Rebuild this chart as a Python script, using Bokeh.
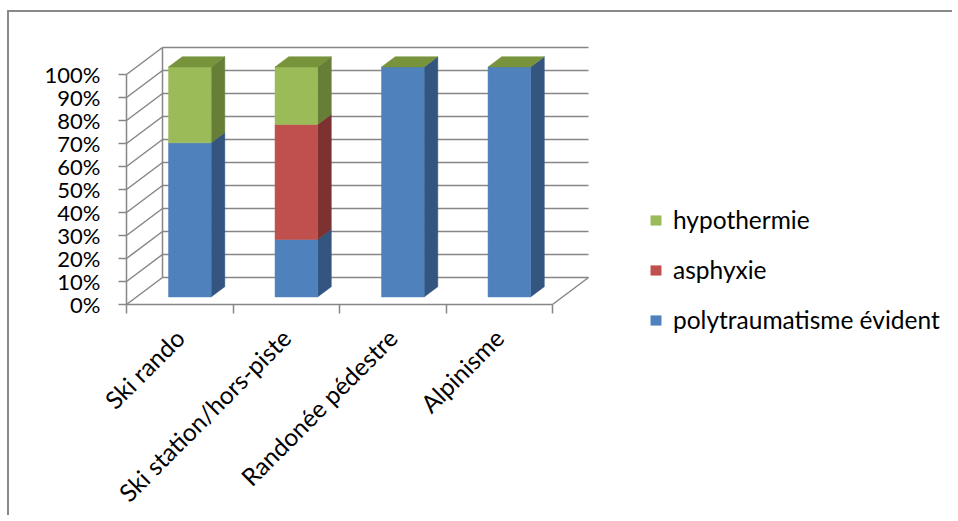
import math
from bokeh.plotting import figure
from bokeh.models import Range1d, FixedTicker, PrintfTickFormatter, Legend, LegendItem
from bokeh.embed import file_html
from bokeh.resources import INLINE

# ---------------- data ----------------
categories = ["Ski rando", "Ski station/hors-piste", "Randonée pédestre", "Alpinisme"]
series_names = ["polytraumatisme évident", "asphyxie", "hypothermie"]
polytraumatisme = [67, 25, 100, 100]
asphyxie = [0, 50, 0, 0]
hypothermie = [33, 25, 0, 0]
y_ticks = [0, 10, 20, 30, 40, 50, 60, 70, 80, 90, 100]

series_values = [polytraumatisme, asphyxie, hypothermie]

# ---------------- style ----------------
front_colors = ["#4F81BD", "#C0504D", "#9BBB59"]
side_colors = ["#33557F", "#7D3231", "#667E36"]
top_colors = ["#3E6699", "#9A3E3C", "#77933C"]
GRID = "#868686"
FONT = "Lato"
TICK_FSIZE = "22px"
LABEL_FSIZE = "24.5px"

CANVAS_W, CANVAS_H = 945, 505
ORIGIN_X, ORIGIN_Y = 117, 292   # pixel position of (category 0, 0%) within the canvas
PX_X = 106.5   # pixels per category
PX_Y = 2.3     # pixels per percent
DX = 36 / PX_X  # depth offset (x, data units)
DY = 27 / PX_Y  # depth offset (y, data units)
D0, D1 = 0.28, 0.66  # bar depth span
BAR_W = 0.40

p = figure(width=CANVAS_W, height=CANVAS_H,
           x_range=Range1d(-ORIGIN_X / PX_X, (CANVAS_W - ORIGIN_X) / PX_X),
           y_range=Range1d(-(CANVAS_H - ORIGIN_Y) / PX_Y, ORIGIN_Y / PX_Y),
           output_backend="svg", toolbar_location=None,
           min_border_left=0, min_border_right=0,
           min_border_top=0, min_border_bottom=0)
p.grid.visible = False
p.outline_line_color = None
p.background_fill_color = "white"
p.border_fill_color = "white"
p.margin = (10, 0, 0, 7)
p.styles = {"border-left": "2px solid #898989", "border-top": "2px solid #898989"}

n = len(categories)

# ---------------- walls & floor ----------------
p.segment(x0=[DX] * len(y_ticks), y0=[v + DY for v in y_ticks],
          x1=[n + DX] * len(y_ticks), y1=[v + DY for v in y_ticks],
          line_color=GRID, line_width=1.5)
p.segment(x0=[0] * len(y_ticks), y0=y_ticks,
          x1=[DX] * len(y_ticks), y1=[v + DY for v in y_ticks],
          line_color=GRID, line_width=1.5)
p.segment(x0=[DX, n], y0=[y_ticks[0] + DY, 0], x1=[DX, n + DX], y1=[y_ticks[-1] + DY, DY],
          line_color=GRID, line_width=1.5)

# ---------------- bars ----------------
front_renderers = []
for s, vals in enumerate(series_values):
    L, R, B, T = [], [], [], []
    sx, sy = [], []
    for i, v in enumerate(vals):
        base = sum(series_values[k][i] for k in range(s))
        if v <= 0:
            continue
        xl = i + 0.5 - BAR_W / 2 + D0 * DX
        xr = i + 0.5 + BAR_W / 2 + D0 * DX
        yb = base + D0 * DY
        yt = base + v + D0 * DY
        L.append(xl); R.append(xr); B.append(yb); T.append(yt)
        sx.append([xr, xr + (D1 - D0) * DX, xr + (D1 - D0) * DX, xr])
        sy.append([yb, yb + (D1 - D0) * DY, yt + (D1 - D0) * DY, yt])
    if sx:
        p.patches(sx, sy, fill_color=side_colors[s], line_color=side_colors[s], line_width=0.5)
    r = p.quad(left=L, right=R, bottom=B, top=T, fill_color=front_colors[s],
               line_color=front_colors[s], line_width=0.5)
    front_renderers.append(r)

tx, ty = [], []
for i in range(n):
    tot = sum(series_values[k][i] for k in range(len(series_values)))
    xl = i + 0.5 - BAR_W / 2 + D0 * DX
    xr = i + 0.5 + BAR_W / 2 + D0 * DX
    yt = tot + D0 * DY
    tx.append([xl, xr, xr + (D1 - D0) * DX, xl + (D1 - D0) * DX])
    ty.append([yt, yt, yt + (D1 - D0) * DY, yt + (D1 - D0) * DY])
p.patches(tx, ty, fill_color=top_colors[-1], line_color=top_colors[-1], line_width=0.5)

# ---------------- axes ----------------
xa = p.xaxis[0]
xa.fixed_location = 0
xa.ticker = FixedTicker(ticks=[i + 0.5 for i in range(n)], minor_ticks=list(range(n + 1)))
xa.major_label_overrides = {i + 0.5: c for i, c in enumerate(categories)}
xa.bounds = (0, n)
xa.axis_line_color = GRID
xa.axis_line_width = 1.5
xa.major_tick_line_color = None
xa.minor_tick_line_color = GRID
xa.minor_tick_line_width = 1.5
xa.minor_tick_out = 9
xa.minor_tick_in = 0
xa.major_label_orientation = math.pi / 4
xa.major_label_text_font = FONT
xa.major_label_text_font_size = LABEL_FSIZE
xa.major_label_text_color = "black"
xa.major_label_standoff = 20

ya = p.yaxis[0]
ya.fixed_location = 0
ya.ticker = FixedTicker(ticks=y_ticks, minor_ticks=[])
ya.formatter = PrintfTickFormatter(format="%d%%")
ya.bounds = (y_ticks[0], y_ticks[-1])
ya.axis_line_color = GRID
ya.axis_line_width = 1.5
ya.major_tick_line_color = GRID
ya.major_tick_line_width = 1.5
ya.major_tick_out = 8
ya.major_tick_in = 0
ya.minor_tick_line_color = None
ya.major_label_text_font = FONT
ya.major_label_text_font_size = TICK_FSIZE
ya.major_label_text_color = "black"
ya.major_label_standoff = 18

# ---------------- legend ----------------
items = [LegendItem(label=series_names[s], renderers=[front_renderers[s]])
         for s in reversed(range(len(series_values)))]
legend = Legend(items=items, location=(ORIGIN_X + 523, CANVAS_H - ORIGIN_Y + 183 - 213),
                orientation="vertical",
                glyph_width=13, glyph_height=12, label_height=28, spacing=21,
                padding=0, margin=0, border_line_color=None, background_fill_alpha=0,
                label_text_font=FONT, label_text_font_size=LABEL_FSIZE,
                label_text_color="black", label_standoff=11)
p.add_layout(legend)

open("out.html", "w").write(file_html(p, INLINE))
